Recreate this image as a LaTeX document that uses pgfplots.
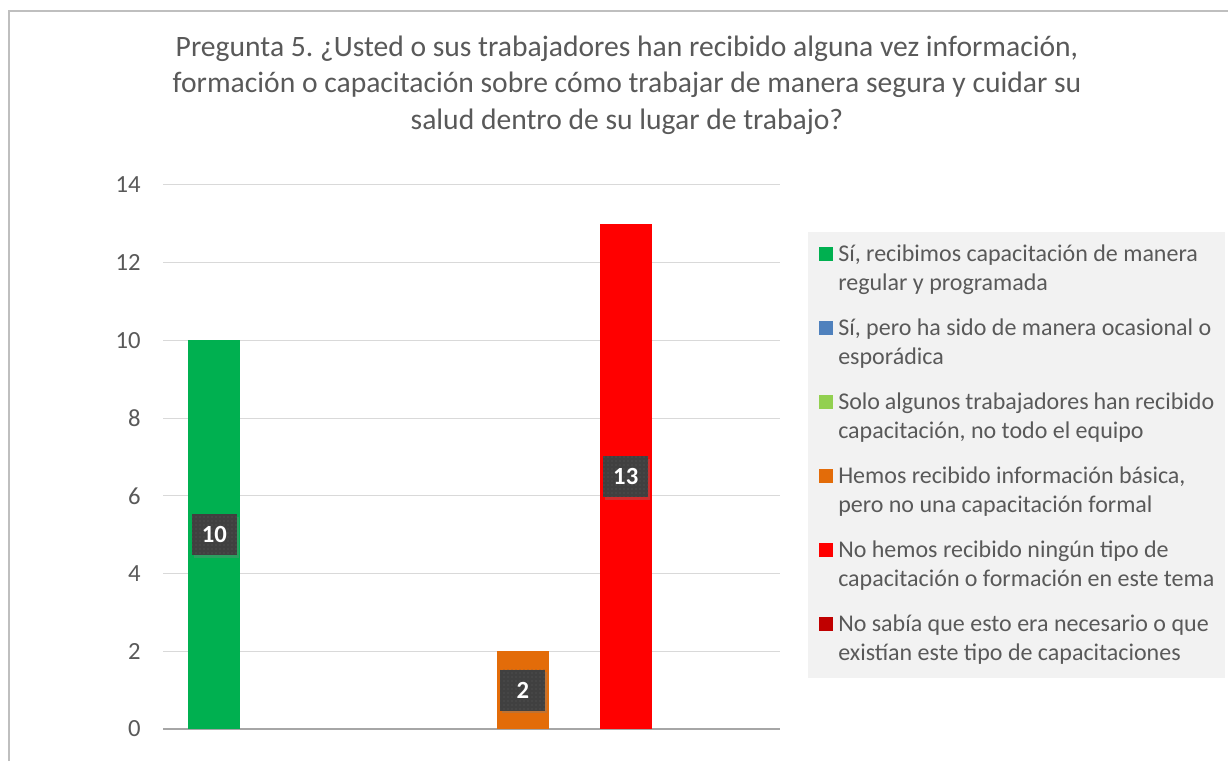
\documentclass[border=0pt]{standalone}
\usepackage{fontspec}
\setmainfont{Carlito}
\usepackage{pgfplots}
\pgfplotsset{compat=1.18}
\usetikzlibrary{patterns,shadows}
\definecolor{txt}{HTML}{595959}
\definecolor{gridc}{HTML}{D9D9D9}
\definecolor{axisc}{HTML}{A6A6A6}
\definecolor{framec}{HTML}{BFBFBF}
\definecolor{lgbg}{HTML}{F2F2F2}
\definecolor{labc}{HTML}{404040}
\definecolor{dotc}{HTML}{5E5E5E}
\definecolor{c1}{HTML}{00B050}
\definecolor{c2}{HTML}{4F81BD}
\definecolor{c3}{HTML}{92D050}
\definecolor{c4}{HTML}{E36C09}
\definecolor{c5}{HTML}{FF0000}
\definecolor{c6}{HTML}{C00000}
\frenchspacing
\begin{document}
\begin{tikzpicture}
\path[use as bounding box] (0,0) rectangle (921pt,570.75pt);
\draw[framec, line width=1.5pt] (6.75pt,0) -- (6.75pt,562.5pt) -- (921pt,562.5pt);
\node[align=center, font=\fontsize{22.2}{27.4}\selectfont, text=txt] at (470.25pt,506.8pt)
 {Pregunta 5. ¿Usted o sus trabajadores han recibido alguna vez información,\\
  formación o capacitación sobre cómo trabajar de manera segura y cuidar su\\
  salud dentro de su lugar de trabajo?};
\begin{axis}[
  at={(122.25pt,24pt)}, anchor=south west,
  width=462.75pt, height=408pt, scale only axis,
  xmin=-0.5, xmax=5.5, ymin=0, ymax=14,
  ytick={0,2,...,14}, xtick=\empty,
  ymajorgrids, grid style={draw=gridc, line width=0.75pt},
  axis lines*=left,
  y axis line style={draw=none},
  x axis line style={draw=axisc, line width=1pt},
  major tick length=0pt, tick style={draw=none},
  /pgf/number format/assume math mode=true,
  yticklabel style={font=\fontsize{18.5}{21}\selectfont, text=txt, inner sep=0pt, xshift=-16.5pt},
  bar width=0.505, bar shift=0pt,
  legend style={at={(1.0454,0.9136)}, anchor=north west, fill=lgbg, draw=none,
    inner xsep=8.25pt, inner ysep=6.5pt, row sep=12pt, column sep=3.75pt,
    nodes={inner sep=0pt, text depth=, text=txt, font=\fontsize{18}{21.75}\selectfont},
    cells={anchor=base west}},
  legend image code/.code={\fill[#1, draw=none] (0pt,0pt) rectangle (10.5pt,10.5pt);},
]
\addplot[ybar, fill=c1, draw=none, forget plot] coordinates {(0,10)};
\addplot[ybar, fill=c4, draw=none, forget plot] coordinates {(3,2)};
\addplot[ybar, fill=c5, draw=none, forget plot] coordinates {(4,13)};
\addplot[draw=none, mark=none, forget plot, nodes near coords, point meta=explicit symbolic,
  every node near coord/.append style={anchor=center, fill=labc, text=white,
    font=\bfseries\fontsize{18.5}{21}\selectfont, minimum width=33.75pt, minimum height=30.75pt,
    inner sep=0pt, drop shadow={shadow xshift=1.5pt, shadow yshift=-2pt, opacity=0.35},
    postaction={pattern=dots, pattern color=dotc}}]
  coordinates {(0,5) [10] (3,1) [2] (4,6.5) [13]};
\addlegendimage{fill=c1, draw=none}
\addlegendentry{\parbox[t]{282pt}{\strut Sí, recibimos capacitación de manera\\\strut regular y programada}}
\addlegendimage{fill=c2, draw=none}
\addlegendentry{\parbox[t]{282pt}{\strut Sí, pero ha sido de manera ocasional o\\\strut esporádica}}
\addlegendimage{fill=c3, draw=none}
\addlegendentry{\parbox[t]{282pt}{\strut Solo algunos trabajadores han recibido\\\strut capacitación, no todo el equipo}}
\addlegendimage{fill=c4, draw=none}
\addlegendentry{\parbox[t]{282pt}{\strut Hemos recibido información básica,\\\strut pero no una capacitación formal}}
\addlegendimage{fill=c5, draw=none}
\addlegendentry{\parbox[t]{282pt}{\strut No hemos recibido ningún tipo de\\\strut capacitación o formación en este tema}}
\addlegendimage{fill=c6, draw=none}
\addlegendentry{\parbox[t]{282pt}{\strut No sabía que esto era necesario o que\\\strut existían este tipo de capacitaciones}}
\end{axis}
\end{tikzpicture}
\end{document}
